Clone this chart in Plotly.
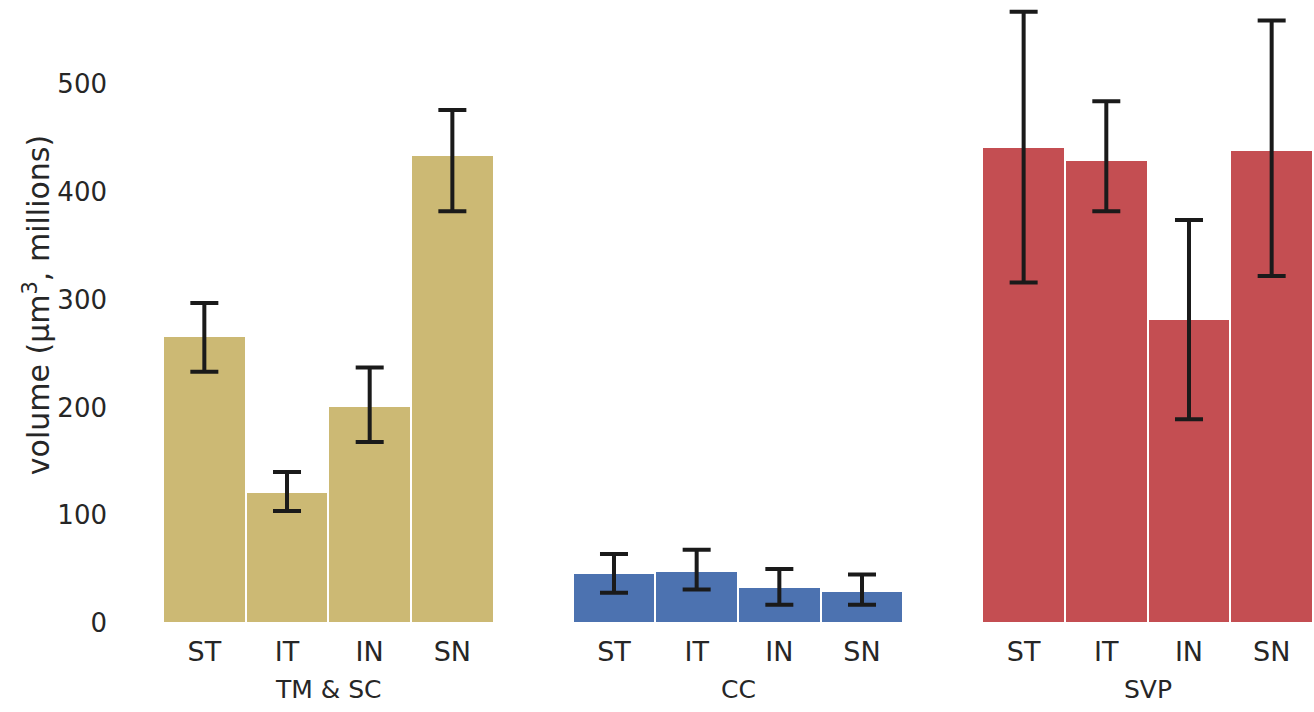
import plotly.graph_objects as go

groups = ["TM & SC", "CC", "SVP"]
regions = ["ST", "IT", "IN", "SN"]
colors = ["#CCB974", "#4C72B0", "#C44E52"]

tmsc_mean = [266, 122, 201, 434]
tmsc_err_plus = [31, 18, 36, 42]
tmsc_err_minus = [33, 18, 33, 52]

cc_mean = [46, 48, 33, 30]
cc_err_plus = [18, 20, 17, 15]
cc_err_minus = [18, 17, 16, 13]

svp_mean = [442, 430, 282, 439]
svp_err_plus = [125, 54, 92, 120]
svp_err_minus = [126, 48, 93, 117]

means = [tmsc_mean, cc_mean, svp_mean]
eplus = [tmsc_err_plus, cc_err_plus, svp_err_plus]
eminus = [tmsc_err_minus, cc_err_minus, svp_err_minus]

group_step = 4.955
font = "DejaVu Sans"
txt = "#262626"

fig = go.Figure()
tickvals, ticktext = [], []
for g, name in enumerate(groups):
    xs = [g * group_step + i for i in range(len(regions))]
    tickvals += xs
    ticktext += regions
    fig.add_trace(go.Bar(
        x=xs, y=means[g], width=1.0,
        marker=dict(color=colors[g], line=dict(color="white", width=2)),
        error_y=dict(type="data", symmetric=False, array=eplus[g], arrayminus=eminus[g],
                     color="#1a1a1a", thickness=4, width=14),
        showlegend=False, name=name,
    ))
    fig.add_annotation(x=g * group_step + 1.5, y=-0.1075, xref="x", yref="paper",
                       text=name, showarrow=False, yanchor="middle",
                       font=dict(family=font, size=25, color=txt))

fig.add_annotation(x=-0.1096, y=0.51, xref="paper", yref="paper",
                   text="volume (μm<sup>3</sup>, millions)",
                   textangle=-90, showarrow=False, xanchor="center", yanchor="middle",
                   font=dict(family=font, size=30, color=txt))

fig.update_layout(
    width=1314, height=712,
    margin=dict(l=163, r=1, t=0, b=89),
    plot_bgcolor="white", paper_bgcolor="white",
    bargap=0,
    font=dict(family=font, color=txt),
    xaxis=dict(tickmode="array", tickvals=tickvals, ticktext=ticktext,
               range=[-0.5, 2 * group_step + 3.5], showgrid=False, zeroline=False,
               showline=False, ticks="", ticklabelstandoff=10,
               tickfont=dict(size=27, family=font, color=txt)),
    yaxis=dict(range=[0, 578], tickvals=[0, 100, 200, 300, 400, 500], showgrid=False,
               zeroline=False, showline=False, ticks="", ticklabelstandoff=55,
               tickfont=dict(size=26, family=font, color=txt)),
)

fig.write_html("out.html", config={"displayModeBar": False},
               post_script="document.body.style.margin='0';document.body.style.overflow='hidden';")
